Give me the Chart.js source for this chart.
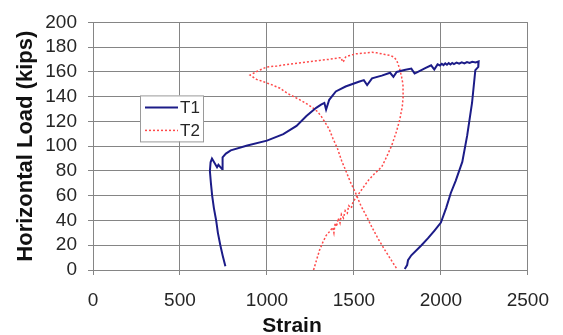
<!DOCTYPE html>
<html>
<head>
<meta charset="utf-8">
<script src="https://cdn.jsdelivr.net/npm/chart.js@4.4.0/dist/chart.umd.min.js"></script>
<style>
  html, body { margin: 0; padding: 0; background: #fff; }
  #wrap { width: 563px; height: 335px; position: relative; }
</style>
</head>
<body>
<div id="wrap"><canvas id="chart"></canvas></div>
<script>
// T1 (solid) - strain vs horizontal load
const t1Strain = [761, 745, 732, 718, 708, 695, 685, 678, 672, 676, 684, 713, 721, 742, 745, 764, 792, 887, 1000, 1094, 1170, 1227, 1283, 1311, 1330, 1340, 1358, 1396, 1452, 1528, 1557, 1576, 1604, 1660, 1708, 1727, 1746, 1790, 1830, 1849, 1868, 1910, 1944, 1962, 1981, 1995, 2005, 2015, 2025, 2035, 2045, 2055, 2065, 2075, 2090, 2105, 2120, 2135, 2150, 2165, 2180, 2200, 2217, 2215, 2198, 2179, 2151, 2123, 2113, 2085, 2057, 2030, 2000, 1962, 1925, 1887, 1830, 1811, 1806, 1792];
const t1Load   = [3, 12, 20, 30, 40, 50, 60, 70, 80, 87, 90, 83, 85, 81.5, 91, 94, 96.6, 100.5, 104.5, 109.8, 116.4, 124.4, 131, 133.6, 135, 129.6, 137.5, 144.2, 148.2, 152.1, 153.4, 149.4, 154.8, 157, 159.3, 156, 160, 161.5, 162.7, 158.7, 160, 163, 165.3, 161.9, 166.1, 165.2, 166.6, 165.5, 166.9, 165.8, 167.1, 166, 167.2, 166.3, 167.5, 166.6, 167.7, 166.9, 168, 167.3, 168.2, 167.7, 168.5, 164, 161.4, 134.9, 108.5, 87.3, 83.3, 72, 62.2, 50, 38.3, 31.7, 25.5, 19.8, 11.9, 7.9, 4, 0.8];

// T2 (dotted)
const t2Strain = [1268, 1285, 1302, 1320, 1340, 1360, 1378, 1385, 1392, 1400, 1410, 1420, 1428, 1440, 1450, 1462, 1470, 1485, 1495, 1510, 1530, 1560, 1585, 1620, 1660, 1690, 1717, 1745, 1764, 1778, 1783, 1782, 1774, 1762, 1746, 1730, 1708, 1680, 1660, 1630, 1604, 1560, 1510, 1470, 1452, 1440, 1434, 1428, 1415, 1360, 1302, 1230, 1151, 1057, 1000, 950, 903, 940, 981, 1030, 1075, 1120, 1170, 1220, 1264, 1290, 1311, 1335, 1358, 1380, 1406, 1430, 1452, 1480, 1510, 1540, 1570, 1604, 1640, 1679, 1710, 1745];
const t2Load   = [0, 8, 15.9, 22, 27.8, 31, 34.4, 30, 38, 35, 42, 38, 45, 42, 48, 46, 52, 50, 55, 58.2, 62, 68, 72.8, 78, 83.3, 92, 100.5, 112, 121.7, 132, 140.2, 150, 156, 163, 169.3, 172, 173.3, 174, 174.6, 175.5, 175.9, 175.2, 174.6, 173, 172, 168.5, 168, 171.5, 171.4, 170.2, 169.3, 168, 166.7, 164.8, 164, 161, 157.4, 154, 152, 149.5, 146.8, 142.5, 138.9, 135, 131, 128, 124.4, 119, 113.7, 106, 97.9, 88, 80.7, 71, 62.1, 52, 44, 34.4, 25, 15.9, 9, 1.3];

const seriesNames = ['T1', 'T2'];
const xTicks = [0, 500, 1000, 1500, 2000, 2500];
const yTicks = [0, 20, 40, 60, 80, 100, 120, 140, 160, 180, 200];

const GRID = '#858585';
const TEXT = '#262626';

function pts(xs, ys) {
  return xs.map((x, i) => ({ x: x, y: ys[i] }));
}

// boxed legend sitting inside the plot area + shifted x title
const extras = {
  id: 'extras',
  afterDatasetsDraw(chart) {
    const ctx = chart.ctx;
    const a = chart.chartArea;
    const bx = a.left + 47, by = a.top + 73, bw = 63, bh = 46;
    ctx.save();
    ctx.fillStyle = '#fff';
    ctx.fillRect(bx, by, bw, bh);
    ctx.strokeStyle = '#9a9a9a';
    ctx.lineWidth = 1;
    ctx.strokeRect(bx + 0.5, by + 0.5, bw, bh);
    ctx.font = '17px "Liberation Sans", Arial, sans-serif';
    ctx.textBaseline = 'middle';
    chart.data.datasets.forEach((ds, i) => {
      const ly = by + 12 + i * 23;
      ctx.strokeStyle = ds.borderColor;
      ctx.lineWidth = ds.borderWidth;
      ctx.setLineDash(ds.borderDash || []);
      ctx.beginPath();
      ctx.moveTo(bx + 5, ly);
      ctx.lineTo(bx + 38, ly);
      ctx.stroke();
      ctx.setLineDash([]);
      ctx.fillStyle = TEXT;
      ctx.fillText(ds.label, bx + 40, ly + 1);
    });
    ctx.restore();
  },
  afterDraw(chart) {
    const ctx = chart.ctx;
    ctx.save();
    ctx.font = 'bold 21px "Liberation Sans", Arial, sans-serif';
    ctx.fillStyle = '#111';
    ctx.textAlign = 'center';
    ctx.textBaseline = 'alphabetic';
    ctx.fillText('Strain', chart.chartArea.left + 199, chart.height - 3);
    ctx.restore();
  }
};

new Chart(document.getElementById('chart'), {
  type: 'scatter',
  data: {
    datasets: [
      {
        label: seriesNames[0],
        data: pts(t1Strain, t1Load),
        showLine: true,
        borderColor: '#1c1c88',
        borderWidth: 2,
        pointRadius: 0,
        tension: 0
      },
      {
        label: seriesNames[1],
        data: pts(t2Strain, t2Load),
        showLine: true,
        borderColor: '#ff4a4a',
        borderWidth: 1.5,
        borderDash: [2, 2],
        pointRadius: 0,
        tension: 0
      }
    ]
  },
  options: {
    responsive: true,
    maintainAspectRatio: false,
    animation: false,
    layout: { padding: { left: 0, right: 28, top: 18, bottom: 0 } },
    plugins: {
      legend: { display: false },
      tooltip: { enabled: false }
    },
    scales: {
      x: {
        type: 'linear',
        min: 0,
        max: 2500,
        afterBuildTicks: (s) => { s.ticks = xTicks.map(v => ({ value: v })); },
        afterFit: (s) => { s.height = 65; },
        grid: { color: GRID, lineWidth: 1, tickLength: 5, tickColor: GRID },
        border: { color: GRID },
        ticks: {
          padding: 14,
          color: TEXT,
          autoSkip: false,
          maxRotation: 0,
          callback: (v) => String(v),
          font: { family: '"Liberation Sans", Arial, sans-serif', size: 19 }
        }
      },
      y: {
        type: 'linear',
        min: 0,
        max: 200,
        afterBuildTicks: (s) => { s.ticks = yTicks.map(v => ({ value: v })); },
        afterFit: (s) => { s.width = 93; },
        grid: { color: GRID, lineWidth: 1, tickLength: 5, tickColor: GRID },
        border: { color: GRID },
        ticks: {
          padding: 11,
          color: TEXT,
          autoSkip: false,
          callback: (v) => String(v),
          font: { family: '"Liberation Sans", Arial, sans-serif', size: 19 }
        },
        title: {
          display: true,
          text: 'Horizontal Load (kips)',
          color: '#111',
          padding: { top: 15, bottom: 0 },
          font: { family: '"Liberation Sans", Arial, sans-serif', size: 22, weight: 'bold', lineHeight: 1 }
        }
      }
    }
  },
  plugins: [extras]
});
</script>
</body>
</html>
